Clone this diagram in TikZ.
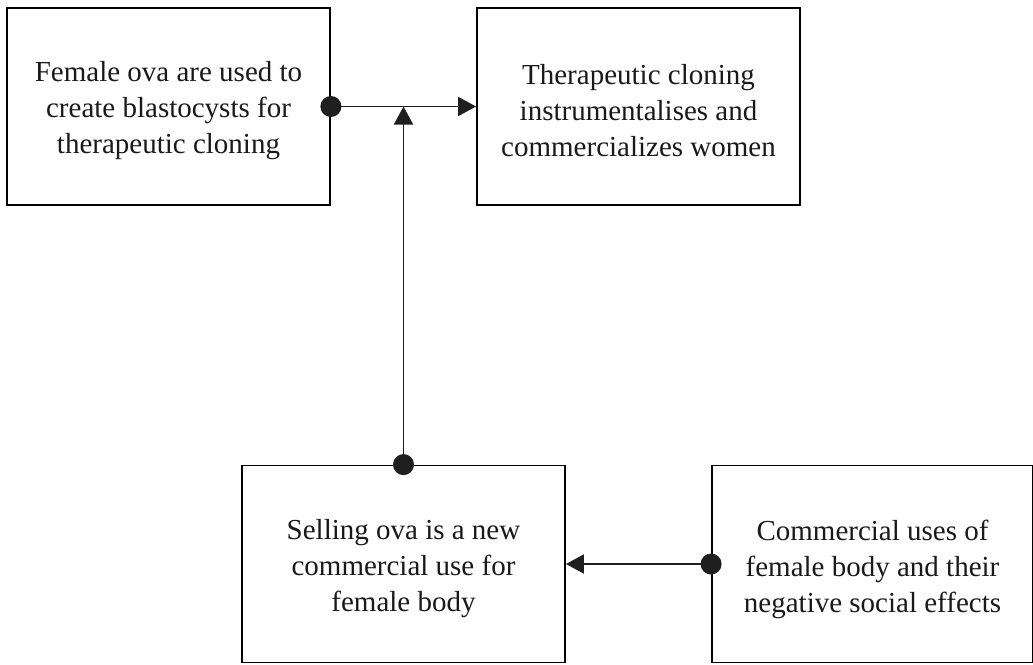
\documentclass[tikz,border=0pt]{standalone}
\usepackage{fontspec}
\setmainfont{Liberation Serif}
\usetikzlibrary{arrows.meta}
\begin{document}
\begin{tikzpicture}[x=1pt,y=-1pt,
  claim/.style={draw, line width=1.8pt, minimum width=323pt, minimum height=197pt, inner sep=0pt},
  claimtext/.style={align=center, inner sep=0pt, font=\fontsize{29}{36}\selectfont, text=black!90},
  link/.style={line width=1.8pt, black!88,
    {Circle[length=21pt]}-{Triangle[length=18pt,width=19pt]}, shorten <=-10.5pt}
]
\useasboundingbox (0,0) rectangle (1033,664);
% boxes
\node[claim] (ova)  at (168.5,106.5) {};
\node[claim] (thc)  at (638.5,106.5) {};
\node[claim] (sell) at (403.5,564) {};
\node[claim, minimum width=321pt] (com) at (872.5,564) {};
% box texts, set a little below the box centres
\node[claimtext] (ova-t)  at ([yshift=-4pt]ova.center)  {Female ova are used to\\create blastocysts for\\therapeutic cloning};
\node[claimtext] (thc-t)  at ([yshift=-4pt]thc.center)  {Therapeutic cloning\\instrumentalises and\\commercializes women};
\node[claimtext] (sell-t) at ([yshift=-5pt]sell.center) {Selling ova is a new\\commercial use for\\female body};
\node[claimtext] (com-t)  at ([yshift=-5pt]com.center)  {Commercial uses of\\female body and their\\negative social effects};
% connectors
\coordinate (join) at (sell.north |- ova.east);
\draw[link] (ova.east) -- (thc.west);
\draw[link] (sell.north) -- (join);
\draw[link] (com.west) -- (sell.east);
\end{tikzpicture}
\end{document}
